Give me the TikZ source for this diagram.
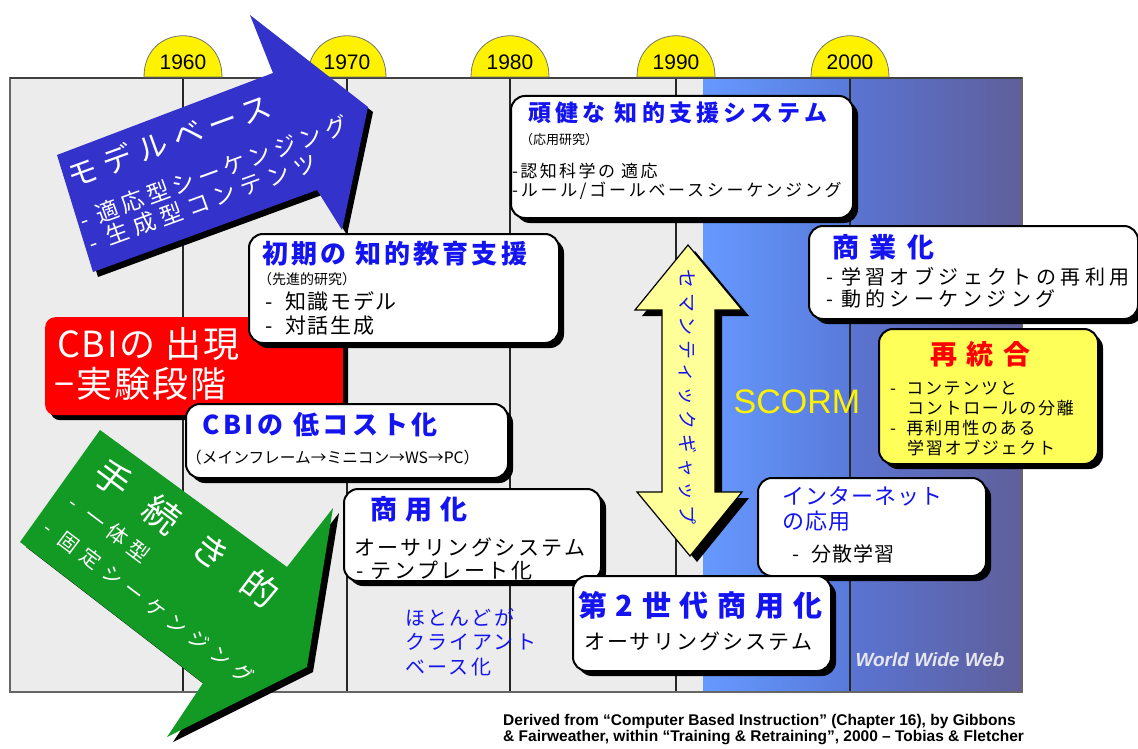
\documentclass[tikz,border=0pt]{standalone}
\usepackage{fontspec}
\usepackage{graphicx}
\setmainfont{Noto Sans CJK JP}
\newfontfamily\arial{Liberation Sans}
\usetikzlibrary{shadows}
\definecolor{panelgray}{HTML}{ECECEC}
\definecolor{tblue}{HTML}{1414F0}
\definecolor{arrowblue}{HTML}{3333CC}
\definecolor{arrowgreen}{HTML}{129A24}
\definecolor{yelarrow}{HTML}{FFFF99}
\definecolor{reyellow}{HTML}{FFFF5A}
\definecolor{bandAL}{HTML}{6699FF}
\definecolor{bandAR}{HTML}{587ADA}
\definecolor{bandBL}{HTML}{5A74D2}
\definecolor{bandBR}{HTML}{5F5F9A}
\definecolor{wwwgray}{HTML}{E6E6F0}
\newcommand\fsz[1]{\fontsize{#1}{#1}\selectfont}
\newcommand\ls[1]{\addfontfeatures{LetterSpace=#1}}
\tikzset{
  wbox/.style={draw=black, line width=2pt, fill=white, rounded corners=14pt,
    anchor=north west, inner sep=0pt,
    general shadow={fill=black, shadow xshift=5pt, shadow yshift=-5pt}},
  txt/.style={anchor=west, inner sep=0pt},
  dome/.style={fill=yellow, draw=black!55, line width=0.8pt},
  gridline/.style={draw=black!85, line width=1.3pt},
}
\begin{document}
\begin{tikzpicture}[x=1pt,y=-1pt]
\useasboundingbox (0,0) rectangle (1138,749);
\fill[white] (0,0) rectangle (1138,749);
% panel
\fill[panelgray] (10,78) rectangle (703,692);
\shade[left color=bandAL, right color=bandAR] (703,78) rectangle (851,692);
\shade[left color=bandBL, right color=bandBR] (851,78) rectangle (1022,692);
\foreach \cx in {183,347,510,676,850}{
  \draw[gridline] (\cx,78) -- (\cx,692);
}
\draw[black!60, line width=1.2pt] (10,78) rectangle (1022,692);
\draw[black!75, line width=2.5pt] (10,78) -- (1022,78);
% year domes
\foreach \cx/\yr in {183/1960,347/1970,510/1980,676/1990,850/2000}{
  \draw[dome] ({\cx-39},77) .. controls ({\cx-39},22) and ({\cx+39},22) .. ({\cx+39},77) -- cycle;
  \node[inner sep=0pt, font=\arial\fsz{21}] (y\yr) at (\cx,62) {\yr};
}
% blue arrow
\fill[black, shift={(5,5)}] (57,155) -- (273,73) -- (250,15) -- (368,107) -- (342,230) -- (317,190) -- (93,272) -- cycle;
\fill[arrowblue] (57,155) -- (273,73) -- (250,15) -- (368,107) -- (342,230) -- (317,190) -- (93,272) -- cycle;
\node[txt, rotate=20, text=white, font=\fsz{30}\ls{24}] (mb1) at (68,177) {モデルベース};
\node[txt, rotate=20, text=white, font=\fsz{23}\ls{18}] (mb2) at (80,221) {- 適応型シーケンジング};
\node[txt, rotate=20, text=white, font=\fsz{23}\ls{24}] (mb3) at (89,244) {- 生成型コンテンツ};
% red box
\node[fill=red, rounded corners=10pt, anchor=north west, inner sep=0pt,
  minimum width=298pt, minimum height=98pt,
  general shadow={fill=black, shadow xshift=5pt, shadow yshift=-5pt}] (cbi) at (45,317) {};
\node[txt, text=white, font=\fsz{36}\ls{5}] (cbi1) at (57,344) {CBIの 出現};
\node[txt, text=white, font=\fsz{36}\ls{6}] (cbi2) at (54,384) {−実験段階};
% early intelligent box
\node[wbox, minimum width=310pt, minimum height=109pt] (early) at (248,233) {};
\node[txt, text=tblue, font=\fsz{26}\bfseries\ls{12}] (early1) at (262,254) {初期の 知的教育支援};
\node[txt, font=\fsz{14}] (early2) at (258,279) {（先進的研究）};
\node[txt, font=\fsz{21}\ls{8}] (early3) at (265,301) {-\hspace{0.6em}知識モデル};
\node[txt, font=\fsz{21}\ls{8}] (early4) at (265,326) {-\hspace{0.6em}対話生成};
% low cost box
\node[wbox, minimum width=322pt, minimum height=74pt] (lowcost) at (185,403) {};
\node[txt, text=tblue, font=\fsz{26}\bfseries\ls{14}] (low1) at (202,425) {CBIの 低コスト化};
\node[txt, font=\fsz{15.7}] (low2) at (186,458) {（メインフレーム→ミニコン→WS→PC）};
% green arrow
\fill[black, shift={(6,5)}] (100,430) -- (287,567) -- (333,508) -- (307,667) -- (167,737) -- (203,683) -- (20,542) -- cycle;
\fill[arrowgreen] (100,430) -- (287,567) -- (333,508) -- (307,667) -- (167,737) -- (203,683) -- (20,542) -- cycle;
\node[txt, rotate=-37, text=white, font=\fsz{36}\ls{70}] (proc1) at (99,467) {手続き的};
\node[txt, rotate=-37, text=white, font=\fsz{21}\ls{30}] (proc2) at (71,500) {-\hspace{0.6em}一体型};
\node[txt, rotate=-37, text=white, font=\fsz{20}\ls{36}] (proc3) at (46,525) {-\hspace{0.6em}固定シーケンジング};
% commercial box
\node[wbox, minimum width=257pt, minimum height=92pt] (comm) at (343,488) {};
\node[txt, text=tblue, font=\fsz{27}\bfseries\ls{30}] (comm1) at (370,509) {商用化};
\node[txt, font=\fsz{21}\ls{12}] (comm2) at (354,547) {オーサリングシステム};
\node[txt, font=\fsz{21}\ls{12}] (comm3) at (356,571) {- テンプレート化};
% robust box
\node[wbox, minimum width=342pt, minimum height=122pt] (robust) at (510,95) {};
\node[txt, text=tblue, font=\fsz{23}\bfseries\ls{18}] (rob1) at (528,113) {頑健な 知的支援システム};
\node[txt, font=\fsz{13}] (rob2) at (520,140) {（応用研究）};
\node[txt, font=\fsz{17}\ls{14}] (rob3) at (512,171) {-認知科学の 適応};
\node[txt, font=\fsz{17}\ls{16}] (rob4) at (512,191) {-ルール/ゴールベースシーケンジング};
% semantic gap arrow
\fill[black, shift={(7,6)}] (688,245) -- (742,310) -- (715,310) -- (715,492) -- (742,492) -- (690,556) -- (637,492) -- (662,492) -- (662,310) -- (635,310) -- cycle;
\filldraw[fill=yelarrow, draw=black, line width=1.2pt] (688,245) -- (742,310) -- (715,310) -- (715,492) -- (742,492) -- (690,556) -- (637,492) -- (662,492) -- (662,310) -- (635,310) -- cycle;
\node[rotate=-90, inner sep=0pt, text=tblue, font=\fsz{19}\ls{25}] (gap) at (688,397) {セマンティックギャップ};
% SCORM and WWW
\node[inner sep=0pt, text=yellow, font=\arial\fsz{34}] (scorm) at (797,402) {SCORM};
\node[inner sep=0pt, text=wwwgray, font=\arial\bfseries\itshape\fsz{19}] (www) at (930,660) {World Wide Web};
% industry box
\node[wbox, minimum width=329pt, minimum height=93pt] (indus) at (808,225) {};
\node[txt, text=tblue, font=\fsz{27}\bfseries\ls{40}] (ind1) at (832,247) {商業化};
\node[txt, font=\fsz{20}\ls{22}] (ind2) at (826,277) {-\hspace{0.4em}学習オブジェクトの再利用};
\node[txt, font=\fsz{20}\ls{22}] (ind3) at (826,299) {-\hspace{0.4em}動的シーケンジング};
% reintegration box
\node[wbox, fill=reyellow, minimum width=219pt, minimum height=135pt] (reint) at (878,328) {};
\node[txt, text=red, font=\fsz{27}\bfseries\ls{35}] (re1) at (930,354) {再統合};
\node[txt, font=\fsz{17}\ls{10}] (re2) at (890,388) {-\hspace{0.6em}コンテンツと};
\node[txt, font=\fsz{17}\ls{10}] (re3) at (907,408) {コントロールの分離};
\node[txt, font=\fsz{17}\ls{10}] (re4) at (890,428) {-\hspace{0.6em}再利用性のある};
\node[txt, font=\fsz{17}\ls{10}] (re5) at (907,448) {学習オブジェクト};
% internet box
\node[wbox, minimum width=228pt, minimum height=98pt] (inet) at (757,477) {};
\node[txt, text=tblue, font=\fsz{22}\ls{5}] (in1) at (782,496) {インターネット};
\node[txt, text=tblue, font=\fsz{22}\ls{5}] (in2) at (782,521) {の応用};
\node[txt, font=\fsz{20}\ls{5}] (in3) at (792,554) {-\hspace{0.6em}分散学習};
% second generation box
\node[wbox, minimum width=258pt, minimum height=95pt] (second) at (572,575) {};
\node[txt, text=tblue, font=\fsz{29}\bfseries\ls{30}] (sec1) at (578,605) {第2世代商用化};
\node[txt, font=\fsz{21}\ls{10}] (sec2) at (584,641) {オーサリングシステム};
% client based
\node[txt, text=tblue, font=\fsz{20}\ls{12}] (cl1) at (405,617) {ほとんどが};
\node[txt, text=tblue, font=\fsz{20}\ls{12}] (cl2) at (405,642) {クライアント};
\node[txt, text=tblue, font=\fsz{20}\ls{12}] (cl3) at (405,667) {ベース化};
% caption
\node[txt, font=\arial\bfseries\fsz{15.5}] (cap1) at (503,721) {Derived from “Computer Based Instruction” (Chapter 16), by Gibbons};
\node[txt, font=\arial\bfseries\fsz{15.5}] (cap2) at (503,738) {\& Fairweather, within “Training \& Retraining”, 2000 – Tobias \& Fletcher};
\end{tikzpicture}
\end{document}
